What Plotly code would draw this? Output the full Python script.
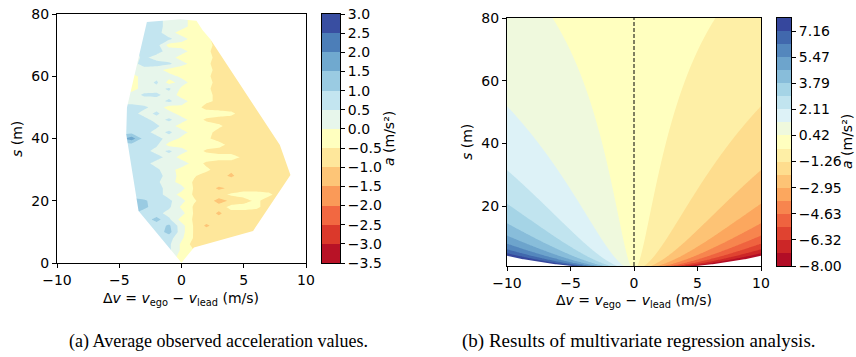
import numpy as np
import plotly.graph_objects as go
from plotly.colors import sample_colorscale

FIG_W, FIG_H = 856, 357
SANS = "DejaVu Sans"
SERIF = "Liberation Serif"
TICK_SIZE = 14
MINUS = "\u2212"

# ---------------- (a) average observed acceleration ----------------
obs_dv = [-5, -4, -3, -2, -1, 0, 1, 2, 3, 4, 5, 6, 7, 8, 9]
obs_s = list(range(0, 81, 2))
# rows follow obs_s (bottom to top), columns follow obs_dv
obs_a = [
    [0.6, 0.6, 0.6, 0.6, 0.3, -0.2, -0.3, -0.7, -0.7, -0.7, -0.7, -0.7, -0.7, -0.7, -0.7],    # s=0
    [0.6, 0.6, 0.6, 0.6, 0.3, -0.2, -0.3, -0.7, -0.7, -0.7, -0.7, -0.7, -0.7, -0.7, -0.7],    # 2
    [0.7, 0.7, 0.7, 0.7, 0.6, -0.1, -0.5, -0.7, -0.7, -0.7, -0.7, -0.7, -0.7, -0.7, -0.7],    # 4
    [0.7, 0.7, 0.7, 0.7, 0.6, -0.1, -0.7, -0.9, -0.7, -0.7, -0.7, -0.7, -0.7, -0.7, -0.7],    # 6
    [0.7, 0.7, 0.7, 0.7, 0.7, 0.1, -0.55, -0.7, -0.7, -0.7, -0.7, -0.7, -0.7, -0.7, -0.7],   # 8
    [0.7, 0.7, 0.7, 0.7, 1.2, 0.2, -0.55, -0.7, -0.7, -0.7, -0.7, -0.7, -0.7, -0.7, -0.7],   # 10
    [0.8, 0.8, 0.7, 0.7, 1.1, 0.2, -0.55, -1.1, -0.7, -0.7, -0.7, -0.7, -0.7, -0.7, -0.7],   # 12
    [0.8, 0.8, 0.7, 1.2, 0.6, -0.2, -0.55, -0.7, -0.8, -0.7, -0.7, -0.7, -0.7, -0.7, -0.7],  # 14
    [1.1, 1.1, 0.8, 0.7, 0.3, 0.2, -0.55, -0.7, -1.1, -0.7, -0.7, -0.7, -0.7, -0.7, -0.7],   # 16
    [1.2, 1.2, 1.1, 0.8, 0.6, -0.1, -0.55, -0.7, -0.8, -0.3, -0.3, -0.4, -0.7, -0.7, -0.7],  # 18
    [1.2, 1.2, 1.1, 0.7, 0.6, 0.2, -0.45, -0.7, -1.2, -0.9, -0.7, -0.4, -0.7, -0.7, -0.7],   # 20
    [1.0, 0.8, 0.6, 0.7, 0.3, -0.2, -0.55, -0.7, -0.7, -0.4, -0.3, -0.3, -0.4, -0.7, -0.7],  # 22
    [1.1, 0.8, 0.7, 0.7, 0.3, 0.2, -0.55, -0.7, -1.1, -0.9, -0.7, -0.7, -0.7, -0.7, -0.7],   # 24
    [1.1, 0.8, 0.7, 0.6, 0.2, -0.2, -0.55, -0.7, -0.7, -0.7, -0.7, -0.7, -0.7, -0.7, -0.7],  # 26
    [1.1, 0.9, 0.7, 0.7, 0.3, -0.2, -0.45, -0.7, -0.8, -1.1, -0.7, -0.7, -0.7, -0.7, -0.7],  # 28
    [0.7, 0.7, 0.7, 0.6, 0.2, -0.2, -0.2, -0.4, -0.7, -0.9, -0.7, -0.7, -0.7, -0.7, -0.7],   # 30
    [0.7, 0.7, 0.7, 0.3, 0.2, 0.3, -0.2, -0.6, -0.7, -0.7, -0.7, -0.7, -0.7, -0.7, -0.7],    # 32
    [0.7, 0.7, 0.6, 0.7, 0.3, -0.2, -0.2, -0.2, -0.3, -0.3, -0.6, -0.7, -0.7, -0.7, -0.7],   # 34
    [0.7, 0.7, 0.7, 0.3, 0.6, 0.2, -0.2, -0.6, -0.7, -0.7, -0.7, -0.7, -0.7, -0.7, -0.7],    # 36
    [0.8, 0.8, 0.7, 0.6, -0.2, -0.2, -0.2, -0.2, -0.3, -0.7, -0.7, -0.7, -0.7, -0.7, -0.7],  # 38
    [1.3, 1.8, 0.8, 0.7, 0.3, -0.1, -0.2, -0.4, -0.7, -0.7, -0.7, -0.7, -0.7, -0.7, -0.7],   # 40
    [0.8, 0.8, 0.7, 0.3, 0.6, 0.2, -0.2, -0.3, -0.7, -0.7, -0.7, -0.7, -0.7, -0.7, -0.7],    # 42
    [0.7, 0.7, 0.7, 0.6, 0.2, -0.2, -0.2, -0.2, -0.4, -0.7, -0.7, -0.7, -0.7, -0.7, -0.7],   # 44
    [0.7, 0.6, 0.7, 0.3, 0.6, 0.2, -0.2, -0.6, -0.7, -0.7, -0.7, -0.7, -0.7, -0.7, -0.7],    # 46
    [0.7, 0.7, 0.3, 0.6, 0.2, -0.2, -0.2, -0.2, -0.3, -0.4, -0.7, -0.7, -0.7, -0.7, -0.7],   # 48
    [0.7, 0.7, 0.6, 0.3, -0.2, -0.1, -0.2, -0.7, -0.7, -0.7, -0.7, -0.7, -0.7, -0.7, -0.7],  # 50
    [0.3, 0.3, 0.2, 0.3, 0.6, 0.2, -0.2, -0.4, -0.6, -0.7, -0.7, -0.7, -0.7, -0.7, -0.7],    # 52
    [0.2, 0.2, 0.6, 0.6, 0.3, -0.2, -0.2, -0.3, -0.7, -0.7, -0.7, -0.7, -0.7, -0.7, -0.7],   # 54
    [-0.2, -0.2, 0.2, 0.3, 0.6, -0.1, -0.2, -0.4, -0.7, -0.7, -0.7, -0.7, -0.7, -0.7, -0.7], # 56
    [-0.2, -0.2, 0.2, 0.6, -0.2, 0.2, -0.2, -0.3, -0.7, -0.7, -0.7, -0.7, -0.7, -0.7, -0.7], # 58
    [-0.2, -0.2, 0.2, 0.3, 0.2, -0.1, -0.2, -0.4, -0.7, -0.7, -0.7, -0.7, -0.7, -0.7, -0.7], # 60
    [0.2, 0.2, 0.3, 0.2, -0.2, -0.4, -0.2, -0.3, -0.7, -0.7, -0.7, -0.7, -0.7, -0.7, -0.7],  # 62
    [0.3, 0.3, 0.7, 0.7, 0.6, 0.2, -0.2, -0.4, -0.7, -0.7, -0.7, -0.7, -0.7, -0.7, -0.7],    # 64
    [0.3, 0.3, 0.6, 0.3, 0.2, -0.2, -0.2, -0.3, -0.7, -0.7, -0.7, -0.7, -0.7, -0.7, -0.7],   # 66
    [0.3, 0.3, 0.7, 0.7, 0.3, 0.2, -0.2, -0.4, -0.7, -0.7, -0.7, -0.7, -0.7, -0.7, -0.7],    # 68
    [0.3, 0.3, 0.7, 0.7, -0.2, -0.2, -0.2, -0.3, -0.7, -0.7, -0.7, -0.7, -0.7, -0.7, -0.7],  # 70
    [0.7, 0.7, 0.7, 0.7, 0.6, 0.2, -0.2, -0.4, -0.7, -0.7, -0.7, -0.7, -0.7, -0.7, -0.7],    # 72
    [0.7, 0.7, 0.7, 0.7, 0.2, -0.2, -0.2, -0.4, -0.7, -0.7, -0.7, -0.7, -0.7, -0.7, -0.7],   # 74
    [0.7, 0.7, 0.7, 0.7, 0.3, 0.2, -0.2, -0.4, -0.7, -0.7, -0.7, -0.7, -0.7, -0.7, -0.7],    # 76
    [0.7, 0.7, 0.7, 0.7, 0.3, 0.2, -0.2, -0.4, -0.7, -0.7, -0.7, -0.7, -0.7, -0.7, -0.7],    # 78
    [0.7, 0.7, 0.7, 0.7, 0.3, 0.2, -0.2, -0.4, -0.7, -0.7, -0.7, -0.7, -0.7, -0.7, -0.7],    # 80
]
# outline of the observed region
hull_dv = [-2.78, -0.1, 1.2, 1.7, 2.3, 7.9, 8.75, 5.75, 1.0, 0.0, -3.45, -4.44, -4.38]
hull_s = [77.4, 78.3, 77.8, 74.8, 72.0, 37.9, 28.3, 10.3, 5.0, 0.1, 16.7, 41.4, 50.0]
obs_levels = [-3.5, -3.0, -2.5, -2.0, -1.5, -1.0, -0.5, 0.0, 0.5, 1.0, 1.5, 2.0, 2.5, 3.0]
obs_ticks = obs_levels

# ---------------- (b) multivariate regression ----------------
reg_beta_dv = 0.256        # coefficient of dv
reg_beta_dv_gap = -1.856   # coefficient of dv * s**reg_gap_power
reg_gap_power = -0.4
reg_dv_range = [-10, 10]
reg_s_range = [1, 80]
reg_levels = list(np.linspace(-8.0, 8.0, 20))
reg_ticks = reg_levels[::2]

axis_ticks_x = [-10, -5, 0, 5, 10]


def fmt(v, nd):
    txt = f"{abs(v):.{nd}f}"
    return (MINUS + txt) if v < -1e-9 else txt


def band_colors(n):
    return sample_colorscale("RdYlBu", [(i + 0.5) / n for i in range(n)])


def contour_scale(colors):
    # plotly paints the band [L, L+size] with the colour found at (i+1)/n_levels
    nlev = len(colors) + 1
    scale = [[0.0, colors[0]]]
    for i, c in enumerate(colors):
        scale.append([(i + 1) / nlev, c])
    scale.append([1.0, colors[-1]])
    return scale


def xdom(p0, p1):
    return [p0 / FIG_W, p1 / FIG_W]


def ydom(top, bottom):
    return [1 - bottom / FIG_H, 1 - top / FIG_H]


def regression(dv, s):
    return reg_beta_dv * dv + reg_beta_dv_gap * dv * np.power(s, reg_gap_power)


obs_colors = band_colors(len(obs_levels) - 1)
reg_colors = band_colors(len(reg_levels) - 1)

fig = go.Figure()

# (a) filled contours of the observed averages
fig.add_trace(go.Contour(
    x=obs_dv, y=obs_s, z=obs_a,
    autocontour=False,
    contours=dict(start=obs_levels[0], end=obs_levels[-1],
                  size=obs_levels[1] - obs_levels[0],
                  coloring="fill", showlines=False),
    line=dict(width=0, smoothing=0),
    colorscale=contour_scale(obs_colors), showscale=False,
    hoverinfo="skip", xaxis="x", yaxis="y",
))

# white cover outside the observed region (rectangle with a keyhole cut)
hd = np.array(hull_dv, dtype=float)
hs = np.array(hull_s, dtype=float)
area = 0.5 * np.sum(hd * np.roll(hs, -1) - np.roll(hd, -1) * hs)
if area < 0:
    hd, hs = hd[::-1], hs[::-1]
k = int(np.argmin(hs))
hd = np.roll(hd, -k)
hs = np.roll(hs, -k)
x0 = hd[0]
mask_x = [x0, -11, -11, 11, 11, x0] + list(hd) + [hd[0], x0]
mask_y = [-5, -5, 85, 85, -5, -5] + list(hs) + [hs[0], -5]
fig.add_trace(go.Scatter(
    x=mask_x, y=mask_y, mode="lines", fill="toself", fillcolor="white",
    line=dict(width=0, color="white"), hoverinfo="skip", showlegend=False,
    xaxis="x", yaxis="y",
))

# (b) regression surface
grid_dv = np.linspace(reg_dv_range[0], reg_dv_range[1], 241)
grid_s = np.linspace(reg_s_range[0], reg_s_range[1], 400)
DV, S = np.meshgrid(grid_dv, grid_s)
Z = regression(DV, S)
reg_size = reg_levels[1] - reg_levels[0]
fig.add_trace(go.Contour(
    x=grid_dv, y=grid_s, z=Z,
    autocontour=False,
    contours=dict(start=reg_levels[0], end=reg_levels[-1] + reg_size * 1e-4,
                  size=reg_size, coloring="fill", showlines=False),
    line=dict(width=0),
    colorscale=contour_scale(reg_colors), showscale=False,
    hoverinfo="skip", xaxis="x2", yaxis="y2",
))

# blank out values beyond the outermost levels
s_edge = np.linspace(0.3, 8.0, 200)
den = reg_beta_dv + reg_beta_dv_gap * np.power(s_edge, reg_gap_power)
for target, side in ((reg_levels[-1], -1), (reg_levels[0], 1)):
    dv_edge = np.clip(target / den, -10.6, 10.6)
    px = [side * 10.6] + list(dv_edge) + [side * 10.6]
    py = [s_edge[0]] + list(s_edge) + [s_edge[-1]]
    fig.add_trace(go.Scatter(
        x=px, y=py, mode="lines", fill="toself", fillcolor="white",
        line=dict(width=0, color="white"), hoverinfo="skip", showlegend=False,
        xaxis="x2", yaxis="y2",
    ))

fig.add_trace(go.Scatter(
    x=[0, 0], y=reg_s_range, mode="lines",
    line=dict(color="black", width=1, dash="4px,2px"),
    hoverinfo="skip", showlegend=False, xaxis="x2", yaxis="y2",
))

# colour bars drawn as stacked bars
for levels, colors, xa, ya in ((obs_levels, obs_colors, "x3", "y3"),
                               (reg_levels, reg_colors, "x4", "y4")):
    fig.add_trace(go.Bar(
        x=[0] * (len(levels) - 1), y=list(np.diff(levels)), base=levels[:-1],
        width=1, marker=dict(color=colors, line=dict(width=0)),
        hoverinfo="skip", showlegend=False, xaxis=xa, yaxis=ya,
    ))

tick_font = dict(family=SANS, size=TICK_SIZE, color="black")
frame = dict(showline=True, mirror=True, linecolor="black", linewidth=1,
             showgrid=False, zeroline=False, ticks="outside", ticklen=4,
             tickwidth=1, tickcolor="black", tickfont=tick_font,
             automargin=False)

fig.update_layout(
    width=FIG_W, height=FIG_H,
    margin=dict(l=0, r=0, t=0, b=0, pad=0),
    paper_bgcolor="white", plot_bgcolor="white",
    showlegend=False, barmode="overlay", bargap=0,
    xaxis=dict(frame, domain=xdom(57, 306), range=[-10, 10], anchor="y",
               tickvals=axis_ticks_x, ticktext=[fmt(v, 0) for v in axis_ticks_x]),
    yaxis=dict(frame, domain=ydom(14, 263), range=[0, 80], anchor="x",
               tickvals=[0, 20, 40, 60, 80]),
    xaxis2=dict(frame, domain=xdom(507, 761), range=[-10, 10], anchor="y2",
                tickvals=axis_ticks_x, ticktext=[fmt(v, 0) for v in axis_ticks_x]),
    yaxis2=dict(frame, domain=ydom(18, 266), range=reg_s_range, anchor="x2",
                tickvals=[20, 40, 60, 80]),
    xaxis3=dict(frame, domain=xdom(322, 340), range=[-0.5, 0.5], anchor="y3",
                ticks="", showticklabels=False),
    yaxis3=dict(frame, domain=ydom(14, 263), range=[obs_levels[0], obs_levels[-1]],
                anchor="x3", side="right",
                tickvals=obs_ticks, ticktext=[fmt(v, 1) for v in obs_ticks]),
    xaxis4=dict(frame, domain=xdom(777, 791), range=[-0.5, 0.5], anchor="y4",
                ticks="", showticklabels=False),
    yaxis4=dict(frame, domain=ydom(18, 266), range=[reg_levels[0], reg_levels[-1]],
                anchor="x4", side="right",
                tickvals=reg_ticks, ticktext=[fmt(v, 2) for v in reg_ticks]),
)

xlabel = ("\u0394<i>v</i> = <i>v</i><sub>ego</sub> " + MINUS +
          " <i>v</i><sub>lead</sub> (m/s)")
title_font = dict(family=SANS, size=TICK_SIZE, color="black")
notes = [
    (181, 299, xlabel, 0),
    (634, 301, xlabel, 0),
    (17, 139, "<i>s</i> (m)", -90),
    (467, 142, "<i>s</i> (m)", -90),
    (389, 139, "<i>a</i> (m/s\u00b2)", -90),
    (847, 142, "<i>a</i> (m/s\u00b2)", -90),
]
for x, y, text, ang in notes:
    fig.add_annotation(x=x / FIG_W, y=1 - y / FIG_H, xref="paper", yref="paper",
                       text=text, showarrow=False, textangle=ang, font=title_font,
                       xanchor="center", yanchor="middle")

fig.add_annotation(x=67 / FIG_W, y=1 - 341 / FIG_H, xref="paper", yref="paper",
                   text="(a) Average observed acceleration values.",
                   showarrow=False, font=dict(family=SERIF, size=18, color="black"),
                   xanchor="left", yanchor="middle")
fig.add_annotation(x=460 / FIG_W, y=1 - 341 / FIG_H, xref="paper", yref="paper",
                   text="(b) Results of multivariate regression analysis.",
                   showarrow=False, font=dict(family=SERIF, size=19, color="black"),
                   xanchor="left", yanchor="middle")

fig.write_html("out.html")
